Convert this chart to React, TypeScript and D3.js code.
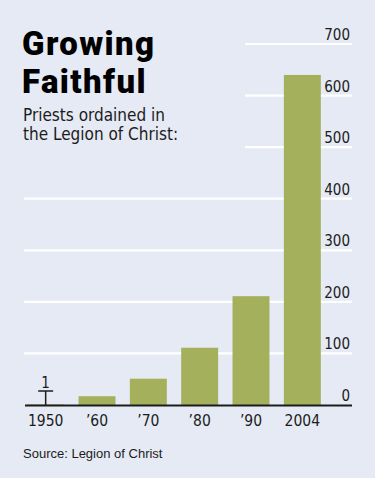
import React from "react";
import * as d3 from "d3";

const categories = ["1950", "’60", "’70", "’80", "’90", "2004"];
const values = [1, 17, 51, 111, 211, 640];
const tickValues = [0, 100, 200, 300, 400, 500, 600, 700];

const W = 375;
const H = 478;
const BG = "#e5eaf4";
const BAR = "#a4b05c";
const INK = "#1c1c1c";
const NARROW = "'DejaVu Sans Condensed', 'DejaVu Sans', sans-serif";
const TITLE = "Roboto, 'Liberation Sans', sans-serif";

export default function App() {
  const y = d3.scaleLinear().domain([0, 700]).range([405, 44]);
  const x = d3
    .scaleBand<string>()
    .domain(categories)
    .range([20, 328])
    .paddingInner(0.28)
    .paddingOuter(0.14);
  const gridRight = 352;
  const c0 = (x(categories[0]) ?? 0) + x.bandwidth() / 2;
  const markTop = y(0) - 14;

  return (
    <svg
      width={W}
      height={H}
      style={{ position: "absolute", left: 0, top: 0, display: "block" }}
    >
      <rect x={0} y={0} width={W} height={H} fill={BG} />
      {tickValues
        .filter((t) => t > 0)
        .map((t) => (
          <line
            key={t}
            x1={t >= 500 ? 245 : 24}
            x2={gridRight}
            y1={y(t)}
            y2={y(t)}
            stroke="#ffffff"
            strokeWidth={2.2}
          />
        ))}
      {categories.map((c, i) => (
        <rect
          key={c}
          x={x(c)}
          y={y(values[i])}
          width={x.bandwidth()}
          height={y(0) - y(values[i])}
          fill={BAR}
        />
      ))}
      <line x1={25} x2={gridRight} y1={y(0) + 0.5} y2={y(0) + 0.5} stroke={INK} strokeWidth={2} />
      {tickValues.map((t) => (
        <text
          key={t}
          x={350}
          y={y(t) - 4}
          textAnchor="end"
          fontFamily={NARROW}
          fontSize={15}
          fill={INK}
        >
          {t}
        </text>
      ))}
      {categories.map((c) => (
        <text
          key={c}
          x={(x(c) ?? 0) + x.bandwidth() / 2}
          y={426}
          textAnchor="middle"
          fontFamily={NARROW}
          fontSize={15.5}
          fill={INK}
        >
          {c}
        </text>
      ))}
      <line x1={c0} x2={c0} y1={markTop} y2={y(0)} stroke={INK} strokeWidth={1.5} />
      <line x1={c0 - 7.5} x2={c0 + 7.5} y1={markTop} y2={markTop} stroke={INK} strokeWidth={1.5} />
      <text x={c0} y={markTop - 3} textAnchor="middle" fontFamily={NARROW} fontSize={15} fill={INK}>
        {values[0]}
      </text>
      <text x={22} y={55} fontFamily={TITLE} fontWeight={900} fontSize={33} letterSpacing={1.4} fill="#000">
        Growing
      </text>
      <text x={22} y={93} fontFamily={TITLE} fontWeight={900} fontSize={33} letterSpacing={1.4} fill="#000">
        Faithful
      </text>
      <text x={23} y={121} fontFamily={NARROW} fontSize={17} fill={INK}>
        Priests ordained in
      </text>
      <text x={23} y={140} fontFamily={NARROW} fontSize={17} fill={INK}>
        the Legion of Christ:
      </text>
      <text x={23} y={458} fontFamily="'Liberation Sans', Arial, sans-serif" fontSize={13} fill={INK}>
        Source: Legion of Christ
      </text>
    </svg>
  );
}
